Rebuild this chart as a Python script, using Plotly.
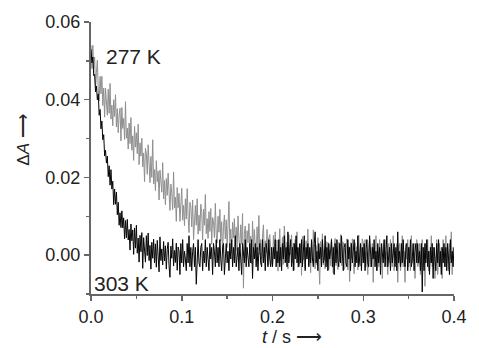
import plotly.graph_objects as go

# time grid (s), 1 ms sampling from 0 to 0.4 s
t = [round(i * 0.001, 3) for i in range(401)]

# ΔA x 1000, 277 K (grey trace), rows of 20 ms
dA_277_milli = [
    54, 48, 54, 48, 51, 43, 47, 50.2, 42.5, 39.7, 46, 41.5, 46, 38.5, 43, 35.5, 43, 40.5, 36, 42.7,
    36.5, 44.2, 35, 38.6, 33.3, 40, 35.7, 41.3, 33, 37.7, 31.5, 36.1, 37.8, 29.4, 38, 32.6, 35.2, 29.8, 39.5, 30.1,
    32.7, 27.3, 34, 28.7, 35.4, 27, 30.7, 24.4, 33.1, 27.8, 31.5, 26.1, 33.7, 23.3, 28.9, 25.5, 30.1, 22.7, 26.3, 18.9,
    27.5, 26.1, 20.8, 28.4, 22.1, 18.7, 25.4, 20, 29.7, 18.3, 22, 16.6, 24.3, 18.9, 21.6, 14.2, 21.9, 19.5, 16.2, 23.8,
    14.5, 19.2, 13, 19.7, 15.4, 21.1, 13.8, 11.5, 18.3, 16, 11.7, 21.4, 12.2, 14.9, 8.7, 17.4, 12.2, 15.9, 8.7, 14.4,
    17.2, 9, 12.8, 7.6, 14.5, 9.3, 17.1, 9.9, 5.8, 13.6, 12.4, 7.3, 14.2, 4, 10.9, 12.8, 7.7, 14.5, 5.4, 10.3,
    6.2, 13.1, 11, 3.9, 11.8, 7.7, 15.6, 5.5, 9.4, 4.3, 11.2, 6.1, 12, 2.8, 9.7, 8.6, 4.5, 13.3, 5.2, 3.1,
    10, 5.9, 11.8, 3.7, 8.6, 0.5, 7.4, 10.3, 4.2, 9.1, 2, 7.9, 13.8, 2.7, 6.7, 0.6, 8.5, 4.4, 9.4, 2.3,
    7.2, 1.1, 10.1, 4, 1.9, 7.8, 2.8, 10.7, -8.5, 5.5, 7.5, -0.6, 6.3, 3.2, 8.1, 1, 4.9, -2.2, 8.8, 1.7,
    6.6, 2.5, -0.6, 7.3, 1.3, 10.2, 0.1, 4, -1, 4.9, 7.8, -0.3, 3.7, 0.6, 6.6, -2.5, 4.4, 5.3, 1.3, -1.8,
    -2.8, 5.1, 1.1, 6, -1, 3.9, -4.1, 2.8, 6.8, -1.3, -0.3, 4.6, -2.4, 7.5, 0.5, -1.6, 3.4, -3.6, 5.3, 0.3,
    0.2, 5.2, -1.9, 3.1, -3.9, 4, 0, 6, -3.1, 1.9, -2.1, 2.9, -5.2, 4.8, -1.2, 1.8, -3.3, 3.7, -0.3, 6.7,
    -2.5, 1.5, -4.5, 3.5, -1.5, 6.5, -0.5, -3.5, 2.5, -2.5, 4.5, -1.5, -7.5, 3.5, -0.5, 5.5, -2.5, 1.5, -3.5, 3.5,
    -1.7, 3.3, -3.7, 1.3, -2.7, 4.3, -0.7, -4.7, 2.3, 4.3, -2.7, 1.3, -3.7, 3.3, -1.7, 5.3, -2.7, -0.7, 3.3, -3.7,
    -2.8, 1.2, 4.2, -3.8, 2.2, -6.8, 3.2, -0.8, 4.2, -1.8, -4.8, 3.2, -0.8, 2.2, -3.8, 5.2, -1.8, -2.8, 1.2, 4.2,
    3, -2, 4, -3, 1, -5, 2, 4, -3, -1, 3, -7, 2, -1, 5, -4, 1, -3, 4, -2,
    2, -6, 3, -1, 4, -3, 1, -5, 3, -2, 4, -1, -3, 5, -4, 1, -2, 3, -7, 2,
    3, -4, -2, 5, -3, 1, -7, 3, -1, 4, -3, 2, -4, 5, -2, -1, 3, -6, 2, 4,
    -3, -2, 3, -5, 1, 4, -3, 2, -8, 3, -1, 4, -4, 1, -2, 5, -3, -1, 2, -6,
    -2, 4, -5, 1, 3, -3, 2, -6, 4, -1, -3, 5, -2, 1, -4, 3, -1, 6, -5, 2,
    1,
]

# ΔA x 1000, 303 K (black trace), rows of 20 ms
dA_303_milli = [
    53, 49.5, 51, 46.2, 46.5, 42, 43.5, 40, 41.5, 36, 37.5, 32.5, 34.5, 29.7, 31, 25.5, 27, 23.7, 25.5, 20.2,
    23, 18, 22, 17, 19, 13, 17, 13.1, 16.2, 10.4, 13.6, 7.7, 10.9, 7.1, 11.4, 7, 9.6, 4.2, 8.9, 4.5,
    9.2, 3.9, 6.6, 1.3, 8, 3.7, 6.5, 0.2, 7, 1.8, 7.7, 0.5, 4.4, -1.8, 5.1, 0.9, 5.8, -3.4, 4.5, 1.3,
    -1.8, 5, -0.1, 5.7, -1.4, 2.5, -3.6, 3.3, -0.8, 4.1, -2, 2.9, -3.1, 3.8, -0.2, -4.3, 4.7, -1.4, 1.6, -2.5,
    3.5, -1.5, 2.4, -3.6, 1.4, 3.3, -2.7, -5.7, 2.3, -0.8, 4.2, -2.8, 1.2, -1.9, 3.1, -3.9, 2.1, 1.1, -5, 3,
    -2, 4, -3, 1, -1, -4, 3, -2, 5, -3, 2, -4, 1, 3, -3, 2, -7.5, 1, 4, -2,
    -3, 2, 3, -4, 1, -2, 4, -3, 2, -1, -4, 3, -1, 2, -5, 3, 1, -3, 4, -2,
    2, -3, 4, -1, -4, 2, 3, -5, 1, 3, -2, 1, -4, 3, -1, 4, -3, 2, -2, 5,
    -3, 1, 2, -4, 3, -1, -5, 3, 1, -2, 4, -3, 2, -1, -3, 3, -2, 4, -6, 2,
    -1, 3, -3, 2, -4, 1, 3, -2, -3, 4, -2, 2, -4, 3, 1, -3, 4, -1, -3, 2,
    -3, 2, -1, 4, -3, 1, -2, 4, -3, 2, -4, 3, -1, 5, -2, 2, -3, 6, -2, 1,
    4, -3, 2, -4, 3, -1, 5, -2, 2, -3, 3, -2, 4, -3, 1, 5, -4, 2, -1, 3,
    -3, 2, -2, 4, -1, -3, 3, 6, -2, 1, -4, 3, -1, 2, -3, 4, -2, -1, 5, -3,
    2, -4, 3, -1, 1, 4, -3, 2, -5, 3, -2, 4, -1, -3, 3, -2, 5, -1, -4, 2,
    3, -2, -3, 4, -1, 2, -4, 3, -2, 1, 4, -3, 1, -2, 5, -3, -1, 3, -4, 2,
    -2, 3, -4, 1, 4, -2, -3, 5, -1, -3, 2, -1, 4, -3, 1, -4, 3, -2, 2, -5,
    3, -1, -2, 4, -3, 1, 5, -3, -1, 2, -4, 3, -2, 1, 3, -3, 2, -4, 6, -2,
    1, -3, 3, -2, 4, -1, -3, 2, 3, -4, 2, -2, 4, -3, -1, 3, -4, 1, 3, -2,
    3, -2, 1, -4, 3, -9.5, 2, -4, 3, -2, 4, -3, 1, -5, 2, -2, 3, -6, 2, -1,
    -4, 3, -2, 4, -3, 1, -5, 2, -2, 3, -3, 2, -4, 3, -1, -5, 4, -2, 1, -3,
    2,
]

assert len(dA_277_milli) == len(t) and len(dA_303_milli) == len(t)

dA_277 = [v / 1000 for v in dA_277_milli]
dA_303 = [v / 1000 for v in dA_303_milli]

y_ticks = [0.0, 0.02, 0.04, 0.06]
x_ticks = [0.0, 0.1, 0.2, 0.3, 0.4]

FONT = "Liberation Sans, Arial, sans-serif"
AXIS_COL = "#666666"
TEXT_COL = "#222222"

W, H = 479, 348
L, R, T, B = 91, 16, 22, 54
pw, ph = W - L - R, H - T - B


def paper_xy(px, py):
    """page pixel -> paper coords"""
    return (px - L) / pw, (H - B - py) / ph


fig = go.Figure()
fig.add_trace(go.Scatter(x=t, y=dA_277, mode="lines",
                         line=dict(color="#8f8f8f", width=1), name="277 K"))
fig.add_trace(go.Scatter(x=t, y=dA_303, mode="lines",
                         line=dict(color="#050505", width=1), name="303 K"))

fig.update_layout(
    width=W, height=H,
    margin=dict(l=L, r=R, t=T, b=B, pad=0),
    paper_bgcolor="white", plot_bgcolor="white",
    showlegend=False,
    font=dict(family=FONT, size=18, color=TEXT_COL),
    xaxis=dict(range=[0, 0.4], tickvals=x_ticks, tickformat=".1f",
               showgrid=False, zeroline=False, showline=True,
               linecolor=AXIS_COL, linewidth=2, ticks="outside",
               tickcolor=AXIS_COL, ticklen=5, tickwidth=1.5,
               minor=dict(dtick=0.05, tick0=0, ticks="outside", ticklen=3,
                          tickcolor=AXIS_COL, tickwidth=1.5),
               tickfont=dict(size=18, color=TEXT_COL)),
    yaxis=dict(range=[-0.01, 0.06], tickvals=y_ticks, tickformat=".2f",
               showgrid=False, zeroline=False, showline=True,
               linecolor=AXIS_COL, linewidth=2, ticks="outside",
               tickcolor=AXIS_COL, ticklen=5, tickwidth=1.5,
               minor=dict(dtick=0.01, tick0=0, ticks="outside", ticklen=3,
                          tickcolor=AXIS_COL, tickwidth=1.5),
               tickfont=dict(size=18, color=TEXT_COL)),
)

fig.add_annotation(x=0.0465, y=0.0512, xref="x", yref="y", text="277 K",
                   showarrow=False, font=dict(size=21, color=TEXT_COL))
fig.add_annotation(x=0.034, y=-0.0072, xref="x", yref="y", text="303 K",
                   showarrow=False, font=dict(size=21, color=TEXT_COL))

ax, ay = paper_xy(21, 140)
fig.add_annotation(x=ax, y=ay, xref="paper", yref="paper",
                   xanchor="center", yanchor="middle",
                   text="Δ<i>A</i> ⟶", textangle=-90, showarrow=False,
                   font=dict(size=17, color=TEXT_COL))
bx, by = paper_xy(297, 337)
fig.add_annotation(x=bx, y=by, xref="paper", yref="paper",
                   xanchor="center", yanchor="middle",
                   text="<i>t</i> / s ⟶", showarrow=False,
                   font=dict(size=18, color=TEXT_COL))

fig.write_html(
    "out.html",
    config={"displayModeBar": False, "staticPlot": True},
    post_script="document.body.style.margin='0';document.body.style.overflow='hidden';",
)
